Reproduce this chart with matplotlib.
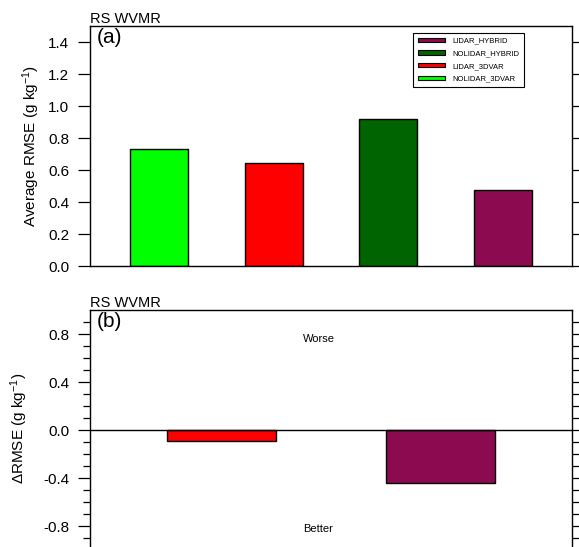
import numpy as np
import matplotlib
matplotlib.use('Agg')
import matplotlib.pyplot as plt
import matplotlib.transforms as mtransforms
from matplotlib.patches import Patch


# data
exps      = ['NOLIDAR_3DVAR', 'LIDAR_3DVAR', 'NOLIDAR_HYBRID', 'LIDAR_HYBRID']
colors    = ['#00FF00', '#FF0000', '#006400', '#8B0A50']
rmse      = [0.733, 0.642, 0.920, 0.475]
d_names   = ['LIDAR_3DVAR', 'LIDAR_HYBRID']
d_colors  = ['#FF0000', '#8B0A50']
d_rmse    = [-0.09, -0.44]


plt.rcParams['font.family'] = ['Liberation Sans', 'DejaVu Sans']
plt.rcParams['mathtext.fontset'] = 'custom'
plt.rcParams['mathtext.rm'] = 'Liberation Sans'
plt.rcParams['mathtext.it'] = 'Liberation Sans'

W, H = 579, 547
fig = plt.figure(figsize=(W/100, H/100), dpi=100)


def style(ax):
    for s in ax.spines.values():
        s.set_linewidth(1.0)
        s.set_color('k')
    ax.tick_params(axis='y', which='major', direction='out', length=9, width=0.9,
                   labelsize=11, pad=6, left=True, right=True, labelright=False)
    ax.tick_params(axis='y', which='minor', direction='out', length=5, width=0.9,
                   left=True, right=True)
    ax.tick_params(axis='x', which='both', bottom=False, top=False, labelbottom=False)


#(1) panel (a): average RMSE
ax = fig.add_axes((90/W, 1-266/H, 482/W, 240/H))
x  = np.arange(1, len(exps)+1)
ax.bar(x, rmse, width=0.505, color=colors, edgecolor='k', linewidth=1.0, zorder=2)
ax.set_xlim(0.4, 4.6)
ax.set_ylim(0, 1.5)
ax.set_yticks(np.arange(0, 1.41, 0.2))
ax.set_yticklabels(['%.1f' % v for v in np.arange(0, 1.41, 0.2)])
style(ax)
ax.set_ylabel('Average RMSE (g kg$^{-1}$)', fontsize=11)
ax.yaxis.set_label_coords(-0.10, 0.5)
ax.set_title('RS WVMR', loc='left', fontsize=10.5, pad=1.5)
ax.text(0.014, 0.99, '(a)', transform=ax.transAxes, fontsize=15, va='top', ha='left')
handles = [Patch(facecolor=c, edgecolor='k', linewidth=0.8, label=n)
           for n, c in zip(exps[::-1], colors[::-1])]
leg = ax.legend(handles=handles, loc='upper right', bbox_to_anchor=(0.9004, 0.971),
                borderaxespad=0, fontsize=5.5, frameon=True, fancybox=False,
                framealpha=1, handlelength=3.5, handleheight=0.5, handletextpad=1.0,
                borderpad=0.6, labelspacing=0.75, edgecolor='k')
leg.get_frame().set_linewidth(0.8)


#(2) panel (b): delta RMSE
ax = fig.add_axes((90/W, 0, 482/W, 237/H))
xd = np.arange(1, len(d_names)+1)
ax.bar(xd, d_rmse, width=0.5, color=d_colors, edgecolor='k', linewidth=1.0, zorder=2)
ax.axhline(0, color='k', linewidth=1.0, zorder=3)
ax.set_xlim(0.4, 2.6)
ax.set_ylim(-0.975, 1.0)
ax.set_yticks([-0.8, -0.4, 0.0, 0.4, 0.8])
ax.set_yticklabels(['-0.8', '-0.4', '0.0', '0.4', '0.8'])
ax.set_yticks(np.arange(-0.9, 1.0, 0.1), minor=True)
style(ax)
ax.spines['bottom'].set_visible(False)
ax.set_ylabel('$\\Delta$RMSE (g kg$^{-1}$)', fontsize=11)
ax.yaxis.set_label_coords(-0.125, 0.5)
ax.set_title('RS WVMR', loc='left', fontsize=10.5, pad=1.5)
ax.text(0.014, 0.99, '(b)', transform=ax.transAxes, fontsize=15, va='top', ha='left')
blend = mtransforms.blended_transform_factory(ax.transAxes, ax.transData)
ax.text(0.474, 0.76, 'Worse', transform=blend, fontsize=8, ha='center', va='center')
ax.text(0.474, -0.825, 'Better', transform=blend, fontsize=8, ha='center', va='center')

fig.savefig('out.png', dpi=100)
